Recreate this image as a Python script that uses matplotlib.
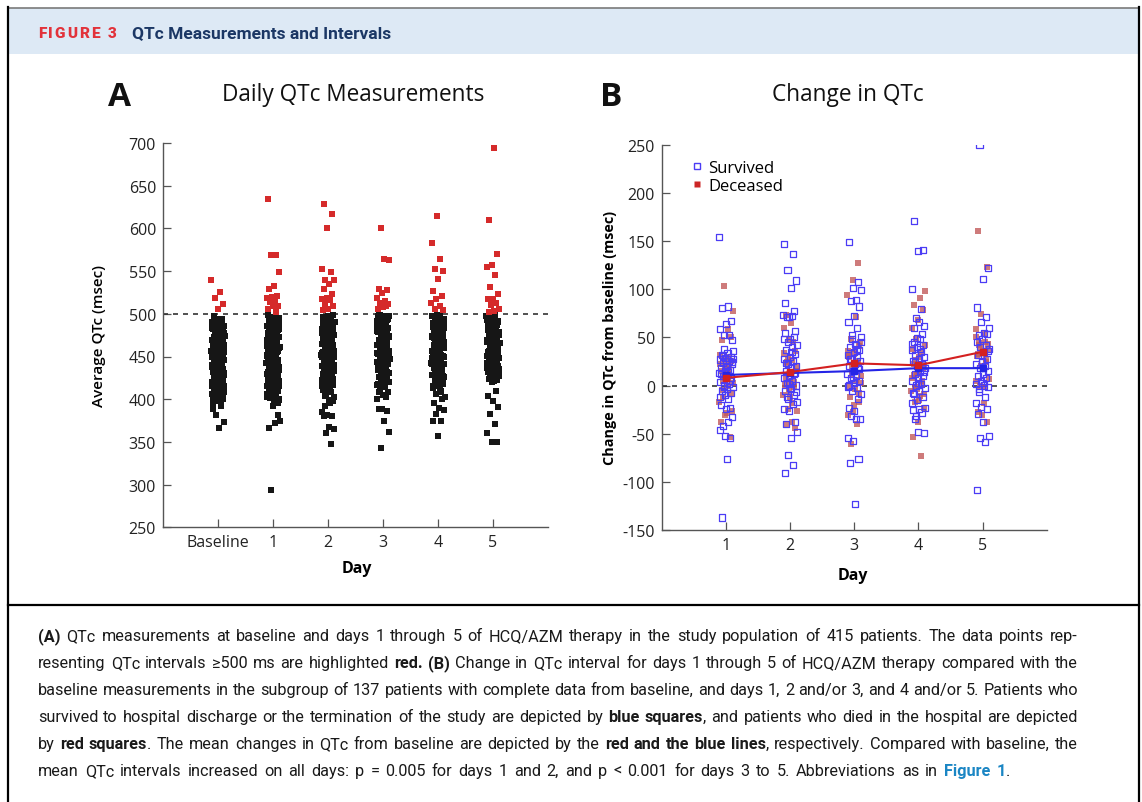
import matplotlib
matplotlib.use("Agg")
import matplotlib.pyplot as plt
from matplotlib.lines import Line2D
from matplotlib.patches import Rectangle
import numpy as np

plt.rcParams["axes.unicode_minus"] = False

# ---- panel A: QTc (msec) per day, baseline..day 5 ----
day_labels = ["Baseline", "1", "2", "3", "4", "5"]

qtc_baseline = [540, 526, 519, 511, 506,
                389, 392, 381, 373, 366,
                497, 494, 493, 490, 489, 487, 485, 484, 482, 481, 478, 477, 476, 473, 472,
                470, 469, 468, 466, 464, 463, 461, 460, 459, 457, 455, 454, 452, 451, 450,
                448, 447, 446, 444, 443, 442, 440, 439, 437, 436, 435, 433, 432, 430, 429,
                428, 426, 424, 423, 421, 420, 418, 416, 415, 413, 411, 410, 408, 406, 404,
                402, 400, 398, 396, 471, 465, 458, 453, 449, 445, 441, 438, 434, 431, 427,
                425, 419, 414, 462, 456, 444, 433, 422, 452, 467, 479, 488, 409, 417, 439,
                491, 487, 483, 480, 475, 471, 468, 465, 462, 458, 455, 451, 448, 446, 443,
                440, 437, 434, 431, 428, 425, 422, 419, 416, 413, 410, 407, 403, 399, 395,
                494, 486, 478, 470, 463, 457, 450, 445, 438, 432, 426, 420, 414, 405, 474,
                466, 454, 447, 441, 436, 429, 423, 459, 449, 444, 435, 430, 418, 412, 401]
qtc_day1 = [634, 569, 569, 549, 532, 529, 521, 520, 518, 516, 514, 509, 509, 506, 502,
            294, 375, 372, 366, 381, 392,
            499, 498, 496, 495, 493, 491, 490, 488, 486, 485, 483, 481, 480, 478, 476,
            475, 473, 471, 470, 468, 466, 465, 463, 461, 460, 458, 456, 455, 453, 451,
            450, 448, 446, 445, 443, 441, 440, 438, 436, 435, 433, 431, 430, 428, 426,
            425, 423, 421, 420, 418, 416, 414, 412, 410, 408, 406, 404, 402, 400, 398,
            487, 474, 462, 452, 444, 437, 429, 419, 467, 457, 447, 434, 424, 413, 492,
            479, 469, 459, 449, 439, 427, 417, 484, 454, 442, 409, 401, 396, 472, 432,
            497, 493, 489, 484, 480, 476, 472, 468, 464, 460, 456, 452, 448, 444, 440,
            436, 432, 428, 424, 420, 416, 411, 405, 399, 494, 486, 478, 470, 462, 454,
            446, 438, 430, 422, 414, 407, 482, 466, 450, 434, 418, 403, 490, 474, 458,
            442, 426, 410, 488, 461, 445, 427, 415, 496, 471, 453, 437, 421, 477, 449]
qtc_day2 = [628, 617, 600, 552, 549, 540, 539, 535, 529, 523, 518, 517, 516, 511, 509, 506, 504,
            348, 360, 365, 367, 380, 380, 381, 385, 396, 392,
            499, 498, 496, 494, 492, 490, 489, 487, 485, 483, 481, 479, 477, 475, 473,
            471, 469, 467, 465, 463, 461, 459, 457, 455, 453, 451, 449, 447, 445, 443,
            441, 439, 437, 435, 433, 431, 429, 427, 425, 423, 421, 419, 417, 414, 411,
            408, 405, 402, 399, 488, 476, 466, 454, 444, 434, 424, 486, 470, 458, 448,
            438, 428, 418, 480, 462, 450, 436, 493, 440,
            497, 491, 486, 481, 477, 472, 468, 463, 458, 454, 449, 445, 440, 436, 431,
            426, 421, 416, 410, 404, 398, 494, 484, 474, 464, 452, 442, 432, 422, 412,
            489, 478, 467, 456, 446, 437, 427, 416, 482, 460, 439, 419, 495, 471, 451]
qtc_day3 = [600, 563, 564, 529, 528, 524, 519, 515, 513, 511, 508, 506, 509,
            343, 362, 374, 389, 386, 389, 400, 402,
            499, 498, 497, 495, 493, 491, 489, 487, 485, 483, 481, 479, 477, 475, 473,
            471, 469, 467, 465, 463, 461, 459, 457, 455, 453, 451, 449, 447, 445, 443,
            441, 439, 437, 435, 433, 431, 429, 426, 423, 420, 417, 414, 411, 408, 405,
            490, 478, 468, 456, 446, 436, 428, 419, 484, 472, 462, 450, 440, 497, 480,
            458, 444, 432,
            498, 494, 490, 486, 482, 478, 474, 470, 466, 462, 458, 454, 450, 446, 442,
            438, 434, 430, 425, 420, 415, 409, 496, 488, 480, 472, 464, 456, 448, 440,
            432, 424, 492, 476, 460, 444, 428, 418, 486, 468, 452, 436, 499, 470, 455]
qtc_day4 = [615, 583, 564, 552, 550, 541, 527, 521, 517, 513, 509, 506, 504,
            357, 374, 374, 383, 387, 390, 395, 400,
            499, 498, 497, 495, 493, 491, 489, 487, 485, 483, 481, 479, 477, 475, 473,
            471, 469, 467, 465, 463, 461, 459, 457, 455, 453, 451, 449, 447, 445, 443,
            441, 439, 437, 434, 431, 428, 425, 422, 419, 416, 413, 410, 406, 402, 494,
            486, 476, 466, 456, 446, 438, 426, 488, 478, 468, 458, 448, 498, 482, 470,
            460, 442, 452,
            498, 494, 490, 486, 482, 478, 474, 470, 466, 462, 458, 454, 450, 446, 442,
            437, 432, 427, 421, 415, 408, 496, 488, 480, 472, 464, 456, 448, 440, 430,
            418, 492, 484, 476, 468, 460, 452, 444, 435, 424, 497, 481, 465, 449, 433,
            489, 473, 457, 441, 412]
qtc_day5 = [694, 610, 570, 557, 555, 545, 531, 523, 517, 517, 513, 510, 506, 503, 502,
            350, 350, 360, 371, 383, 391, 398, 404, 410,
            499, 498, 496, 494, 491, 489, 486, 484, 482, 479, 477, 474, 472, 470, 467,
            465, 462, 460, 458, 455, 453, 450, 448, 446, 443, 441, 438, 436, 434, 431,
            429, 426, 424, 422, 420, 493, 480, 468, 456, 444, 432, 425, 488, 475, 463,
            440, 428, 497, 451,
            499, 495, 490, 485, 481, 476, 471, 466, 461, 457, 452, 447, 442, 437, 433,
            427, 421, 496, 487, 478, 469, 459, 449, 439, 430, 492, 473, 454, 435, 423]
qtc_by_day = [qtc_baseline, qtc_day1, qtc_day2, qtc_day3, qtc_day4, qtc_day5]
qtc_cutoff = 500

# ---- panel B: change from baseline (msec), days 1..5 ----
days_b = [1, 2, 3, 4, 5]
surv_d1 = [154, 82, 80, 67, 64, 59, 52, 52, 47, -76, -137, -54, -52, -46, -38, -42, -33, -24, -20, -23,
           38, 36, 34, 32, 30, 29, 27, 25, 23, 22, 20, 18, 16, 15, 13, 11, 10, 8, 6, 4, 2, 0,
           -2, -4, -6, -8, -10, -12, -14, 31, 24, 19, 12, 5, -1, 28, 14]
surv_d2 = [147, 137, 120, 109, 101, 86, 77, 71, 73, 72, 71, 57, 48, -91, -83, -72, -48, -54, -40, -38,
           -26, -24, -19, -12, -7, -4,
           55, 50, 45, 42, 40, 37, 33, 30, 28, 25, 22, 20, 18, 15, 12, 10, 8, 5, 3, 0,
           -3, -6, -10, -14, -17, 35, 23, 13, 2, 48]
surv_d3 = [149, 107, 101, 99, 89, 88, 82, 72, 66, 60, 52, 50, -123, -80, -76, -58, -54, -35, -32, -35,
           -26, -23, -14,
           48, 45, 42, 40, 37, 35, 32, 30, 27, 25, 22, 20, 18, 15, 12, 10, 8, 5, 3, 0,
           -3, -6, -9, 43, 28, 17, 6, -1, 38]
surv_d4 = [171, 141, 140, 100, 79, 70, 62, 66, 60, 53, 49, 43, 48, -35, -49, -48, -25, -28, -32, -23, -24,
           45, 42, 40, 37, 35, 32, 30, 28, 25, 22, 20, 18, 15, 12, 10, 8, 5, 2, 0,
           -3, -6, -9, -12, -15, -18, 38, 24, 14, 3, -8]
surv_d5 = [250, 122, 111, 81, 71, 66, 60, 55, 52, 53, 48, -108, -59, -54, -52, -38, -30, -24, -22, -18,
           -12, -7, -2, 3,
           45, 42, 40, 38, 35, 32, 28, 25, 22, 20, 18, 15, 12, 10, 8, 5, 2, 0, -4, 36, 24]
dec_d1 = [103, 77, 59, 47, 50, 27, 32, 17, -12, -26, -29, -38, -53, -31, -17, 7, 5,
          25, 20, 15, 12, 10, 3, 0, -5, -8, 18, 22, 30]
dec_d2 = [65, 73, 36, 47, 34, 26, 24, 15, 3, 1, -2, -24, -26, -38, -40, -44, -12,
          60, 45, 28, 20, 12, 8, 4, -6, -10, -18, 22]
dec_d3 = [127, 110, 94, 71, 48, 41, 33, 31, 22, 12, 3, -4, -12, -17, -27, -31, -40, -61,
          45, 38, 30, 25, 18, 10, 6, 0, -8, -20, 36]
dec_d4 = [98, 91, 84, 78, 68, 60, 35, 27, 21, 15, 11, 5, -4, -6, -11, -17, -23, -38, -53, -73,
          48, 42, 30, 22, 18, 12, 8, 2, -2, -9, -15, 38]
dec_d5 = [160, 123, 74, 59, 53, 44, 43, 36, 31, 24, 0, 7, -18, -28, -38, -31,
          50, 45, 40, 38, 35, 33, 28, 20, 5, -2, 42]
surv_by_day = [surv_d1, surv_d2, surv_d3, surv_d4, surv_d5]
dec_by_day = [dec_d1, dec_d2, dec_d3, dec_d4, dec_d5]
mean_surv = [11, 13, 15, 18, 18]
mean_dec = [8, 14, 23, 21, 35]

# ---- figure geometry (pixels) ----
W, H = 1142, 803
fig = plt.figure(figsize=(W / 100, H / 100), dpi=100)
fig.patch.set_facecolor("white")


def fx(x):
    return x / W


def fy(y):
    return 1 - y / H


chart_font = ["Open Sans", "DejaVu Sans"]
cap_fam = ["Roboto", "DejaVu Sans"]


def jitter(n, width, phase=0.0):
    k = np.arange(n)
    return width * (2 * ((k * 0.618034 + phase) % 1.0) - 1)


def style_axes(ax):
    for s in ["top", "right"]:
        ax.spines[s].set_visible(False)
    for s in ["left", "bottom"]:
        ax.spines[s].set_color("#555555")
        ax.spines[s].set_linewidth(1.0)
    ax.tick_params(direction="in", length=6, width=0.9, color="#555555",
                   labelsize=11.5, labelcolor="#222222", pad=5)
    for lab in ax.get_xticklabels() + ax.get_yticklabels():
        lab.set_family(chart_font)


# ---- frame, header band ----
fig.add_artist(Rectangle((fx(9), fy(55)), fx(1138) - fx(9), fy(9) - fy(55),
                         transform=fig.transFigure, facecolor="#dde9f5", edgecolor="none"))
fig.add_artist(Line2D([fx(8), fx(1139)], [fy(8.5), fy(8.5)], transform=fig.transFigure,
                      color="#7a7a7a", lw=1.2))
for xb in (8, 1139):
    fig.add_artist(Line2D([fx(xb), fx(xb)], [fy(8), 0], transform=fig.transFigure,
                          color="black", lw=1.6))
fig.add_artist(Line2D([fx(8), fx(1139)], [fy(605.5), fy(605.5)], transform=fig.transFigure,
                      color="black", lw=1.6))

renderer = fig.canvas.get_renderer()

# "FIGURE 3" with letter spacing
x = 38
for ch in "FIGURE 3":
    t = fig.text(fx(x), fy(38.5), ch, fontsize=11, fontweight="black", color="#e2323a",
                 family=["Roboto", "DejaVu Sans"], va="baseline")
    x += t.get_window_extent(renderer).width + 1.9
fig.text(fx(132), fy(38.5), "QTc Measurements and Intervals", fontsize=12.5, fontweight="bold",
         color="#1b3765", family=["Roboto", "DejaVu Sans"], va="baseline")

# ---- panel A ----
axA = fig.add_axes([fx(163), fy(528.3), fx(548) - fx(163), fy(144) - fy(528.3)])
for i, vals in enumerate(qtc_by_day):
    v = np.array(vals, dtype=float)
    xs = i + jitter(len(v), 0.12, phase=0.11 * i)
    hi = v >= qtc_cutoff
    axA.scatter(xs[~hi], v[~hi], marker="s", s=13, color="#161616", linewidths=0, zorder=3)
    axA.scatter(xs[hi], v[hi], marker="s", s=13, color="#d52a2a", linewidths=0, zorder=3)
axA.axhline(qtc_cutoff, color="#333333", lw=1.2, ls=(0, (3, 3)), zorder=2)
axA.set_xlim(-1, 6)
axA.set_ylim(250, 700)
axA.set_xticks(range(len(day_labels)))
axA.set_xticklabels(day_labels)
axA.set_yticks(np.arange(250, 701, 50))
style_axes(axA)
axA.set_ylabel("Average QTc (msec)", fontsize=11, family=chart_font, fontweight="semibold")
axA.yaxis.set_label_coords(-0.148, 0.5)
axA.set_xlabel("Day", fontsize=11.5, family=chart_font, fontweight="bold")
axA.xaxis.set_label_coords(0.504, -0.086)

# ---- panel B ----
axB = fig.add_axes([fx(662), fy(531), fx(1046.7) - fx(662), fy(145.7) - fy(531)])
for i, d in enumerate(days_b):
    dv = np.array(dec_by_day[i], dtype=float)
    axB.scatter(d + jitter(len(dv), 0.11, phase=0.37 + 0.2 * i), dv, marker="s", s=22,
                color="#c25a5a", alpha=0.8, linewidths=0, zorder=3)
    sv = np.array(surv_by_day[i], dtype=float)
    axB.scatter(d + jitter(len(sv), 0.11, phase=0.07 * i), sv, marker="s", s=19,
                facecolors="none", edgecolors="#4b3cf5", linewidths=0.9, zorder=4)
axB.plot(days_b, mean_dec, color="#d42020", lw=1.5, marker="s", ms=4, zorder=6)
axB.plot(days_b, mean_surv, color="#2424e6", lw=1.5, marker="s", ms=4, zorder=5)
axB.axhline(0, color="#333333", lw=1.2, ls=(0, (3, 3)), zorder=2)
axB.set_xlim(0, 6)
axB.set_ylim(-150, 250)
axB.set_xticks(days_b)
axB.set_yticks(np.arange(-150, 251, 50))
style_axes(axB)
axB.set_ylabel("Change in QTc from baseline (msec)", fontsize=10.4, family=chart_font,
               fontweight="bold")
axB.yaxis.set_label_coords(-0.118, 0.5)
axB.set_xlabel("Day", fontsize=11.5, family=chart_font, fontweight="bold")
axB.xaxis.set_label_coords(0.496, -0.096)
handles = [Line2D([], [], ls="", marker="s", ms=4.5, mfc="none", mec="#4b3cf5", mew=1.0),
           Line2D([], [], ls="", marker="s", ms=4.5, mfc="#cc2626", mec="none")]
axB.legend(handles, ["Survived", "Deceased"], loc="upper left", bbox_to_anchor=(0.04, 1.0),
           frameon=False, handlelength=0.6, handletextpad=0.35, labelspacing=0.15,
           prop={"family": chart_font, "size": 12})

# titles and panel letters
fig.text(fx(353), fy(95), "Daily QTc Measurements", ha="center", va="center", fontsize=16.3,
         family=chart_font, color="#111111")
fig.text(fx(848), fy(95), "Change in QTc", ha="center", va="center", fontsize=16.3,
         family=chart_font, color="#111111")
fig.text(fx(119), fy(97), "A", ha="center", va="center", fontsize=24, fontweight="bold",
         family=chart_font, color="#111111")
fig.text(fx(611), fy(97), "B", ha="center", va="center", fontsize=24, fontweight="bold",
         family=chart_font, color="#111111")

# ---- caption ----
N, B, L = "n", "b", "l"
caption_lines = [
    [("(A)", B), (" QTc measurements at baseline and days 1 through 5 of HCQ/AZM therapy in the "
                  "study population of 415 patients. The data points rep-", N)],
    [("resenting QTc intervals \u2265500 ms are highlighted ", N), ("red.", B), (" ", N),
     ("(B)", B), (" Change in QTc interval for days 1 through 5 of HCQ/AZM therapy compared "
                  "with the", N)],
    [("baseline measurements in the subgroup of 137 patients with complete data from baseline, "
      "and days 1, 2 and/or 3, and 4 and/or 5. Patients who", N)],
    [("survived to hospital discharge or the termination of the study are depicted by ", N),
     ("blue squares", B), (", and patients who died in the hospital are depicted", N)],
    [("by ", N), ("red squares", B), (". The mean changes in QTc from baseline are depicted by the ", N),
     ("red and the blue lines", B), (", respectively. Compared with baseline, the", N)],
    [("mean QTc intervals increased on all days: p = 0.005 for days 1 and 2, and p < 0.001 for "
      "days 3 to 5. Abbreviations as in ", N), ("Figure 1", L), (".", N)],
]
caption_right = [1078, 1078, 1078, 1078, 1078, 1010]
styles = {N: ("normal", "#1a1a1a"), B: ("bold", "#1a1a1a"), L: ("bold", "#1b86c4")}
cap_size = 11.7


def draw_caption_line(segs, y, x0, x1):
    words = [[]]
    for txt, st in segs:
        parts = txt.split(" ")
        for k, p in enumerate(parts):
            if k > 0:
                words.append([])
            if p:
                words[-1].append((p, st))
    words = [w for w in words if w]
    items = []
    for w in words:
        pieces = []
        for p, st in w:
            wt, col = styles[st]
            t = fig.text(0, fy(y), p, fontsize=cap_size, fontweight=wt, color=col,
                         family=cap_fam, va="baseline")
            pieces.append((t, t.get_window_extent(renderer).width))
        items.append(pieces)
    total = sum(pw for pcs in items for _, pw in pcs)
    sp = fig.text(0, 0, "a a", fontsize=cap_size, family=cap_fam)
    sa = fig.text(0, 0, "aa", fontsize=cap_size, family=cap_fam)
    space = sp.get_window_extent(renderer).width - sa.get_window_extent(renderer).width
    sp.remove()
    sa.remove()
    gap = (x1 - x0 - total) / (len(items) - 1)
    gap = max(gap, 0.6 * space)
    x = x0
    for pcs in items:
        for t, pw in pcs:
            t.set_x(fx(x))
            x += pw
        x += gap


for j, segs in enumerate(caption_lines):
    draw_caption_line(segs, 641.5 + 26.9 * j, 38, caption_right[j])

fig.savefig("out.png", dpi=100, facecolor="white")
